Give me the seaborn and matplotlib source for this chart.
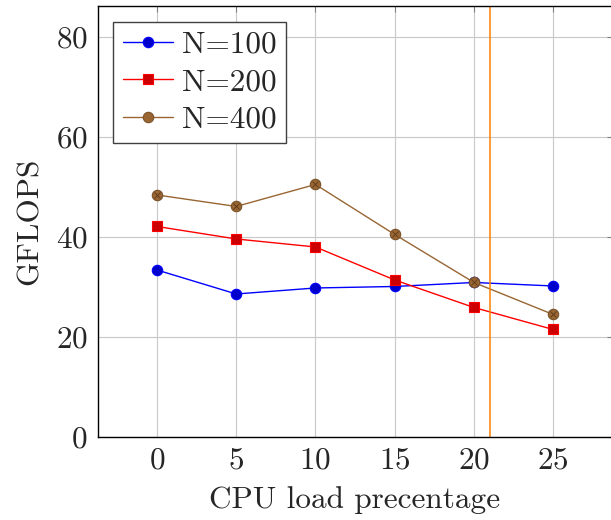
import matplotlib
matplotlib.use("Agg")
import matplotlib.pyplot as plt
import seaborn as sns
import pandas as pd

# Data
cpu_load = [0, 5, 10, 15, 20, 25]
n100 = [33.4, 28.6, 29.8, 30.1, 30.9, 30.2]
n200 = [42.1, 39.6, 38.0, 31.4, 25.9, 21.5]
n400 = [48.4, 46.1, 50.5, 40.5, 30.9, 24.5]
labels = ["N=100", "N=200", "N=400"]
cutoff = 21

sns.set_style("whitegrid")
plt.rcParams["font.family"] = ["cmr10", "DejaVu Serif"]
plt.rcParams["mathtext.fontset"] = "cm"
plt.rcParams["axes.formatter.use_mathtext"] = True

df = pd.DataFrame({"load": cpu_load, "N=100": n100, "N=200": n200, "N=400": n400})

fig = plt.figure(figsize=(6.11, 5.2), dpi=100)
ax = fig.add_axes([0.1596, 0.1596, 0.843, 0.829])

brown = (0.6, 0.4, 0.2)
styles = {
    "N=100": dict(color="blue", marker="o", markerfacecolor=(0, 0, 0.8), markeredgecolor="blue"),
    "N=200": dict(color="red", marker="s", markerfacecolor=(0.8, 0, 0), markeredgecolor="red"),
    "N=400": dict(color=brown, marker="o", markerfacecolor=(0.6, 0.4, 0.2), markeredgecolor=(0.48, 0.32, 0.16)),
}

for name in labels:
    sns.lineplot(data=df, x="load", y=name, ax=ax, label=name, lw=1,
                 markersize=7.5, markeredgewidth=0.8, **styles[name])

# cross inside the brown circles (otimes marker)
ax.plot(df["load"], df["N=400"], ls="none", marker="x", markersize=5,
        color=(0.35, 0.22, 0.1), markeredgewidth=0.6)

ax.axvline(cutoff, color="#ff8000", lw=1.1)

ax.set_xlim(-3.75, 28.75)
ax.set_ylim(0, 86.2)
ax.set_xticks(cpu_load)
ax.set_yticks([0, 20, 40, 60, 80])
ax.grid(True, color="#c8c8c8", lw=0.8)
ax.tick_params(direction="in", length=4, width=0.8, color="#808080",
               top=True, right=True, labelsize=22.5, pad=7)
for sp in ax.spines.values():
    sp.set_color("black")
    sp.set_linewidth(1)

ax.set_xlabel("CPU load precentage", fontsize=22.5, labelpad=8)
ax.set_ylabel("GFLOPS", fontsize=22.5, labelpad=9)

handles, hl = ax.get_legend_handles_labels()
leg = ax.legend(handles[:3], hl[:3], loc="upper left", fontsize=22.5,
                frameon=True, fancybox=False, framealpha=1, edgecolor="#404040",
                handlelength=1.6, handletextpad=0.3, borderpad=0.3,
                labelspacing=0.3, borderaxespad=0.5)
leg.get_frame().set_linewidth(1)

fig.savefig("out.png", dpi=100)
